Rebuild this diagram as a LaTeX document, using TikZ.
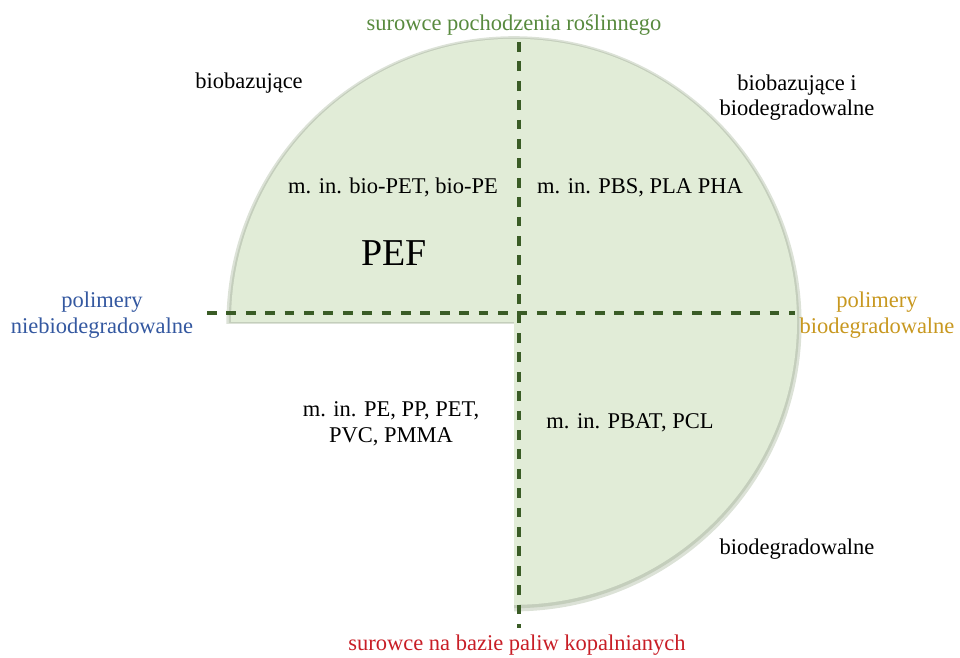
\documentclass[tikz,border=0pt]{standalone}
\usepackage{fontspec}
\setmainfont{Liberation Serif}
\definecolor{pielight}{RGB}{225,236,215}
\definecolor{pieedge}{RGB}{196,206,188}
\definecolor{axisgreen}{RGB}{58,92,38}
\definecolor{txtgreen}{RGB}{88,138,62}
\definecolor{txtblue}{RGB}{52,88,160}
\definecolor{txtgold}{RGB}{200,152,32}
\definecolor{txtred}{RGB}{200,30,38}
\begin{document}
\begin{tikzpicture}[scale=1,
  axis/.style={color=axisgreen, line width=2.4pt, dash pattern=on 7pt off 6.8pt},
  lbl/.style={align=center, inner sep=0pt, font=\fontsize{16}{18}\selectfont}]
	\useasboundingbox (0,0) rectangle (24,16.425);
	% three quarters of the disc
	\fill[pieedge!60] (12.85,8.33) -- ++(-7.19,0) arc[start angle=180, end angle=-90, radius=7.19] -- cycle;
	\fill[pieedge] (12.85,8.35) -- ++(-7.13,0) arc[start angle=180, end angle=-90, radius=7.13] -- cycle;
	\fill[pielight] (12.85,8.38) -- ++(-7.075,0) arc[start angle=180, end angle=-90, radius=7.075] -- cycle;

	\coordinate (west) at (5.175,8.6);
	\coordinate (east) at (19.875,8.6);
	\coordinate (north) at (12.975,15.375);
	\coordinate (south) at (12.975,0.725);
	\draw[axis] (west) -- (east);
	\draw[axis] (north) -- (south);

	\node[lbl, text=txtgreen] (plant) at (12.85,15.8) {surowce pochodzenia roślinnego};
	\node[lbl, text=txtred] (fossil) at (12.925,0.3) {surowce na bazie paliw kopalnianych};
	\node[lbl, text=txtblue] (nonbio) at (2.55,8.55) {polimery\\niebiodegradowalne};
	\node[lbl, text=txtgold] (bio) at (21.925,8.55) {polimery\\biodegradowalne};

	\node[lbl] (nw) at (6.225,14.35) {biobazujące};
	\node[lbl] (ne) at (19.925,13.98) {biobazujące i\\biodegradowalne};
	\node[lbl] (se) at (19.925,2.7) {biodegradowalne};

	\node[lbl] (nwlist) at (9.825,11.73) {m. in. bio-PET, bio-PE};
	\node[lbl, font=\fontsize{27}{32}\selectfont] (pef) at (9.85,10.1) {PEF};
	\node[lbl] (nelist) at (16.0,11.73) {m. in. PBS, PLA PHA};
	\node[lbl] (swlist) at (9.775,5.83) {m. in. PE, PP, PET,\\PVC, PMMA};
	\node[lbl] (selist) at (15.75,5.85) {m. in. PBAT, PCL};
\end{tikzpicture}
\end{document}
